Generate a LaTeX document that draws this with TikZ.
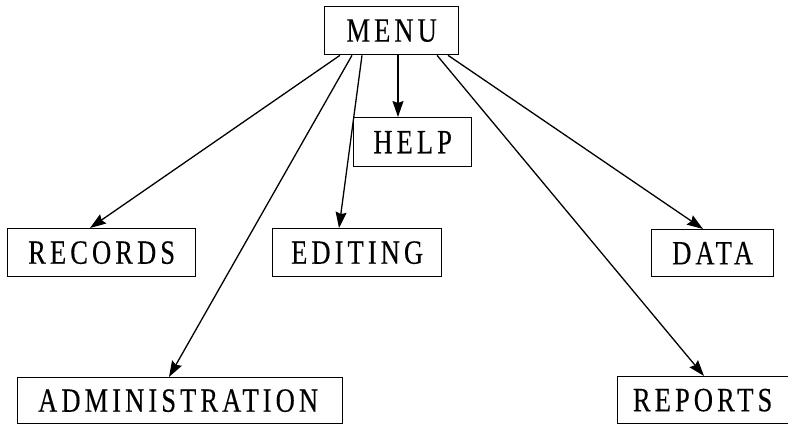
\documentclass[tikz,border=0pt]{standalone}
\usepackage{fontspec}
\setmainfont{Liberation Serif}
\newfontfamily\labfont[FakeStretch=0.78,LetterSpace=12,FakeBold=0.25]{Liberation Serif}
\usetikzlibrary{arrows.meta}
\begin{document}
\begin{tikzpicture}[x=1pt,y=-1pt,
  box/.style={draw,line width=1.3pt,inner sep=0pt,anchor=north west,
    font=\labfont\fontsize{34}{34}\selectfont},
  arr/.style={line width=1.3pt,-{Stealth[length=16pt,width=11pt,inset=2pt]}}]
\useasboundingbox (0,0) rectangle (788,425);
\fill[white] (0,0) rectangle (788,425);
\node[box,minimum width=134pt,minimum height=48pt] (menu) at (324,6) {MENU};
\node[box,minimum width=118pt,minimum height=49pt] (help) at (353,117) {HELP};
\node[box,minimum width=188pt,minimum height=48pt] (records) at (7,228) {RECORDS};
\node[box,minimum width=169pt,minimum height=48pt] (editing) at (272,228) {EDITING};
\node[box,minimum width=122pt,minimum height=47pt] (data) at (651,229) {DATA};
\node[box,minimum width=325pt,minimum height=46pt] (admin) at (17,377) {ADMINISTRATION\hspace*{4pt}};
\node[box,minimum width=180pt,minimum height=47pt,text width=160pt,align=center] (reports) at (617,376) {\hspace*{-10pt}REPORTS};
\draw[arr] ([xshift=16pt]menu.south west) -- ([xshift=83pt]records.north west);
\draw[arr] ([xshift=28pt]menu.south west) -- ([xshift=152pt]admin.north west);
\draw[arr] ([xshift=38pt]menu.south west) -- ([xshift=67pt]editing.north west);
\draw[arr] ([xshift=74pt]menu.south west) -- ([xshift=45pt]help.north west);
\draw[arr] ([xshift=113pt]menu.south west) -- ([xshift=87pt]reports.north west);
\draw[arr] ([xshift=124pt]menu.south west) -- ([xshift=52pt]data.north west);
\end{tikzpicture}
\end{document}
